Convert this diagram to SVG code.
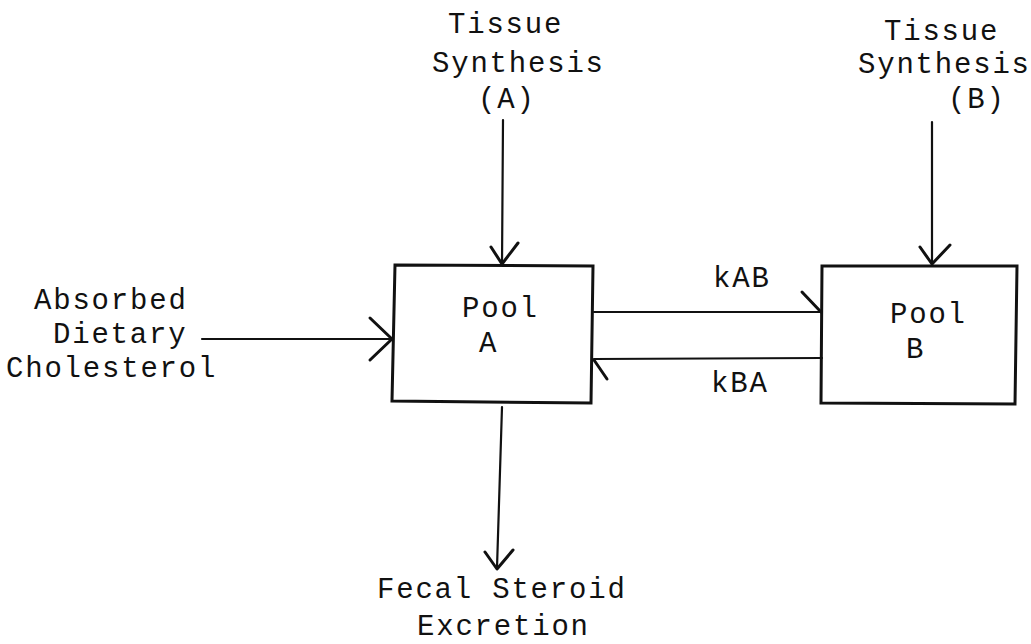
<svg xmlns="http://www.w3.org/2000/svg" width="1031" height="644" viewBox="0 0 1031 644">
<style>
text{font-family:"Liberation Mono","Courier New",monospace;font-size:29px;letter-spacing:1.8px;fill:#111}
.box{fill:none;stroke:#111;stroke-width:3;stroke-linejoin:miter}
.ln{fill:none;stroke:#111;stroke-width:2.2;stroke-linecap:round;stroke-linejoin:round}
.hd{fill:none;stroke:#111;stroke-width:3;stroke-linecap:round;stroke-linejoin:round}
</style>
<rect width="1031" height="644" fill="#fff"/>
<g id="poolA">
<path class="box" d="M395,265 L593,266 L591,403 L392,401 Z"/>
<text x="462" y="317">Pool</text>
<text x="479" y="352">A</text>
</g>
<g id="poolB">
<path class="box" d="M822,266 L1017,266 L1015,404 L821,403 Z"/>
<text x="890" y="323">Pool</text>
<text x="906" y="358">B</text>
</g>
<g id="tissueA">
<text x="448" y="33">Tissue</text>
<text x="432" y="72">Synthesis</text>
<text x="478" y="108">(A)</text>
</g>
<g id="tissueB">
<text x="884" y="40">Tissue</text>
<text x="858" y="73">Synthesis</text>
<text x="948" y="108">(B)</text>
</g>
<g id="dietary">
<text x="34" y="309">Absorbed</text>
<text x="53" y="343">Dietary</text>
<text x="6" y="377">Cholesterol</text>
</g>
<g id="fecal">
<text x="377" y="598">Fecal Steroid</text>
<text x="417" y="635">Excretion</text>
</g>
<g id="connectors">
<path class="ln" d="M503,120 L502,265"/>
<path class="hd" d="M491,247 L502,264 L518,243"/>
<path class="ln" d="M932,122 L932,265"/>
<path class="hd" d="M920,247 L932,264 L950,245"/>
<path class="ln" d="M202,339 L392,339"/>
<path class="hd" d="M370,318 L392,339 L370,360"/>
<path class="ln" d="M502,407 L497,568"/>
<path class="hd" d="M485,552 L497,569 L513,550"/>
<path class="ln" d="M594,312 L822,312"/>
<path class="hd" d="M802,292 L821,312"/>
<path class="ln" d="M594,359 L822,358"/>
<path class="hd" d="M594,360 L607,379"/>
<text x="713" y="287">kAB</text>
<text x="711" y="392">kBA</text>
</g>
</svg>
